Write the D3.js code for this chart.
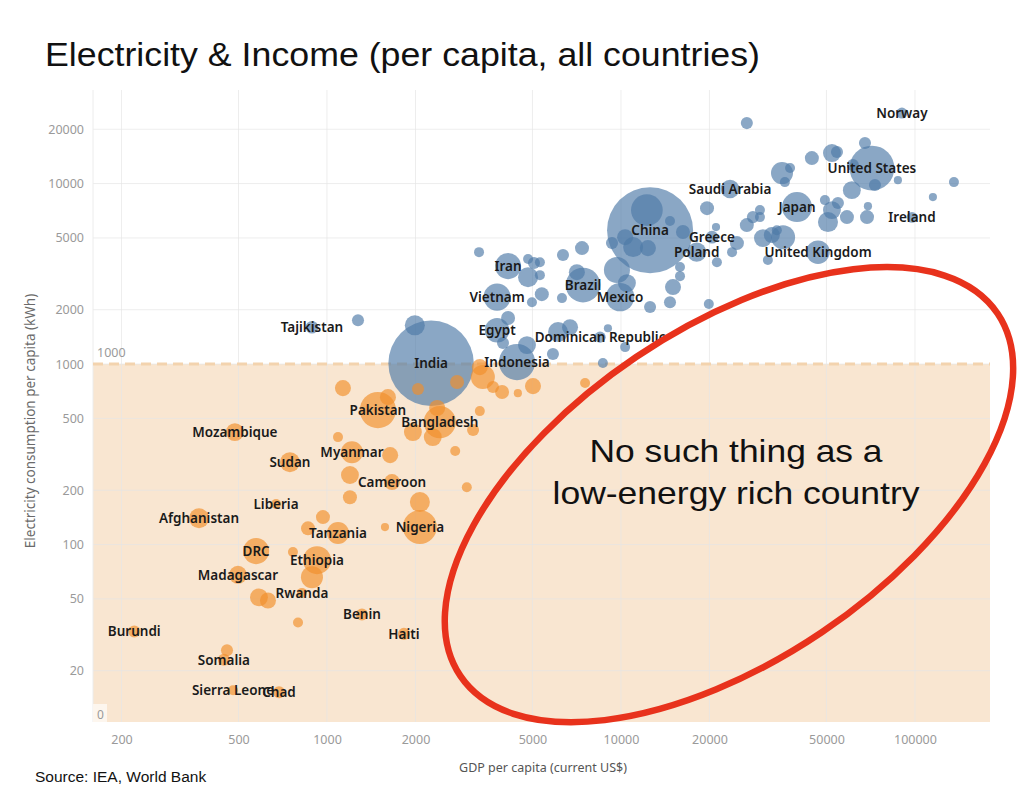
<!DOCTYPE html>
<html><head><meta charset="utf-8">
<script src="https://cdn.jsdelivr.net/npm/d3@7"></script>
<style>
html,body{margin:0;padding:0;background:#fff;}
svg{display:block;}
</style></head>
<body>
<script>
// ---------- DATA ----------
// 19 labelled high-consumption countries, 72 unlabelled ones, then 52 low-consumption countries
const blueNames = ["India","China","United States","","Japan","United Kingdom","Indonesia","Brazil","Mexico","Iran","Vietnam","Egypt","Saudi Arabia","Greece","Poland","Norway","Ireland","Tajikistan","Dominican Republic"];
const blueUnlabelled = 72;
const orangeNames = ["","Pakistan","","Bangladesh","","","","","","","","","","","","","","","","Myanmar","","","","Cameroon","","","Nigeria","","","Tanzania","","","Mozambique","Sudan","Liberia","Afghanistan","DRC","","Ethiopia","","Madagascar","","","Rwanda","","Benin","Haiti","Burundi","Somalia","","Sierra Leone","Chad"];
const names = blueNames.concat(new Array(blueUnlabelled).fill(""), orangeNames);
const gdp = [2260,12560,71400,12250,39700,46800,4430,7430,9930,4130,3790,3790,23500,20400,18100,90300,97700,889,8490,
1990,1275,3290,4830,5060,5300,4830,5300,5380,4980,6350,7370,7080,6300,9690,10480,12560,14680,15030,4130,3970,4790,6110,6710,5870,9030,10330,8680,10330,11000,12350,14680,16250,9320,15880,15880,21200,23870,24800,19620,21050,26800,26800,28100,29700,29700,35300,37600,36100,30400,32600,35600,33900,31600,44600,52200,54300,67600,49400,52200,54700,50600,58700,61000,73100,61500,68700,69200,87500,115100,135700,19900,
1133,1490,1612,2420,2290,2370,1960,3140,2040,2770,3390,3310,3670,3940,4460,5020,7550,3310,1090,1216,1640,2730,1197,1664,1197,2070,2070,1575,2990,1090,969,862,486,748,671,367,574,766,925,889,498,587,630,822,797,1315,1827,221,446,457,479,687];
const elec = [1010,5520,12190,7130,7410,4170,1026,2740,2350,3490,2350,1540,9330,5050,4170,24600,6500,1600,1410,
1640,1750,4170,3820,3630,3670,3030,3110,2440,2200,4020,4390,3230,2320,3320,2810,2070,2200,2670,1800,1307,1274,1504,1600,1136,1580,1242,1013,5050,4450,4390,6200,5390,4680,3450,3070,3670,4170,4680,7310,5740,21630,5890,6520,7130,6520,11430,12190,10190,4990,5190,5050,5520,3770,13840,14760,14950,16770,8100,7130,7800,6120,6520,9200,9810,12660,6520,7500,10450,8420,10190,2150,
736,556,656,477,394,571,420,431,727,795,847,962,746,700,690,755,785,549,394,325,313,330,243,222,183,172,125,125,208,116,142,123,420,286,168,140,92,91,82,66,68,51,49,54,37,41,32,33,23,26,15.6,15.2];
const pop = [1380,1400,330,145,126,67,200,180,110,88,97,75,35,10,38,5.4,5,9.5,6,
43,8,3.5,3.5,8,3.5,43,3.5,14,3.5,8,14,22,3.5,88,31,8,8,22,14,8,31,43,22,8,1,3.5,3.5,22,43,22,3.5,14,8,3.5,3.5,3.5,3.5,14,14,1,8,14,8,3.5,3.5,56,3.5,3.5,31,22,71,3.5,3.5,14,31,8,8,3.5,31,8,43,14,31,8,8,14,1,1,1,3.5,3.5,
22,200,22,150,31,22,31,8,8,14,71,22,8,14,1,22,3.5,3.5,3.5,56,22,3.5,31,22,14,43,171,1,3.5,56,14,14,31,43,3.5,43,88,3.5,106,56,31,31,22,3.5,3.5,8,8,8,8,8,3.5,8];
const xTicks = [200,500,1000,2000,5000,10000,20000,50000,100000];
const yTicks = [20,50,100,200,500,1000,2000,5000,10000,20000];
const threshold = 1000;
const title = "Electricity & Income (per capita, all countries)";
const note = ["No such thing as a","low-energy rich country"];

// ---------- LAYOUT ----------
const W = 1024, H = 796;
const L = 93, R = 990, T = 90, B = 722;
const svg = d3.select("body").append("svg").attr("width",W).attr("height",H);
const x = d3.scaleLog().domain([160,180000]).range([L,R]);
const y = d3.scaleLog().domain([10.4,33000]).range([B,T]);
const r = d3.scaleSqrt().domain([0,1400]).range([3,43]);
const sans = "'Noto Sans', Lato, sans-serif";

// reference band 0..1000
svg.append("rect").attr("x",L).attr("y",y(threshold)).attr("width",R-L).attr("height",B-y(threshold)).attr("fill","#f9e6d1");

// grid
const g = svg.append("g");
g.selectAll("line.v").data(xTicks).join("line").attr("x1",d=>x(d)).attr("x2",d=>x(d)).attr("y1",T).attr("y2",B)
 .attr("stroke","#e6e6e6").attr("stroke-opacity",0.7).attr("stroke-width",1);
g.selectAll("line.h").data(yTicks).join("line").attr("y1",d=>y(d)).attr("y2",d=>y(d)).attr("x1",L).attr("x2",R)
 .attr("stroke","#e6e6e6").attr("stroke-opacity",0.7).attr("stroke-width",1);
g.append("line").attr("x1",L).attr("x2",L).attr("y1",T).attr("y2",B).attr("stroke","#ececec");

// dashed threshold line
svg.append("line").attr("x1",L).attr("x2",R).attr("y1",y(threshold)).attr("y2",y(threshold))
 .attr("stroke","#f3d3ae").attr("stroke-width",3).attr("stroke-dasharray","10,6");
svg.append("text").attr("x",L+4).attr("y",y(threshold)-7).text(String(threshold))
 .attr("font-family",sans).attr("font-size",12.5).attr("fill","#9a9a9a");
svg.append("rect").attr("x",L).attr("y",B-18).attr("width",14).attr("height",18).attr("fill","#fdf6ee");
svg.append("text").attr("x",L+4).attr("y",B-3).text("0")
 .attr("font-family",sans).attr("font-size",12).attr("fill","#9a9a9a");

// axes (labels only)
const xAxis = d3.axisBottom(x).tickValues(xTicks).tickFormat(d3.format("d")).tickSize(0).tickPadding(0);
const ax = svg.append("g").attr("transform",`translate(0,${B+13})`).call(xAxis);
ax.select(".domain").remove();
ax.selectAll("text").attr("font-family",sans).attr("font-size",12.5).attr("fill","#9a9a9a").attr("dy","0.71em");
const yAxis = d3.axisLeft(y).tickValues(yTicks).tickFormat(d3.format("d")).tickSize(0).tickPadding(0);
const ay = svg.append("g").attr("transform",`translate(${L-9},0)`).call(yAxis);
ay.select(".domain").remove();
ay.selectAll("text").attr("font-family",sans).attr("font-size",12.5).attr("fill","#9a9a9a");

// axis titles
svg.append("text").attr("x",543).attr("y",772).attr("text-anchor","middle").text("GDP per capita (current US$)")
 .attr("font-family",sans).attr("font-size",12.5).attr("fill","#555");
svg.append("text").attr("transform","translate(35,421) rotate(-90)").attr("text-anchor","middle").text("Electricity consumption per capita (kWh)")
 .attr("font-family",sans).attr("font-size",13.5).attr("fill","#6a6a6a");

// bubbles
const data = names.map((n,i)=>({name:n,gdp:gdp[i],elec:elec[i],pop:pop[i]}));
const sorted = data.slice().sort((a,b)=>b.pop-a.pop);
svg.append("g").selectAll("circle").data(sorted).join("circle")
 .attr("cx",d=>x(d.gdp)).attr("cy",d=>y(d.elec)).attr("r",d=>r(d.pop))
 .attr("fill",d=>d.elec>=threshold?"#4e79a7":"#f28e2b").attr("fill-opacity",0.66);

// labels
svg.append("g").selectAll("text").data(data.filter(d=>d.name)).join("text")
 .attr("x",d=>x(d.gdp)).attr("y",d=>y(d.elec)).attr("dy","0.36em").attr("text-anchor","middle").text(d=>d.name)
 .attr("font-family",sans).attr("font-size",13.5).attr("font-weight",600).attr("fill","#1a1a1a");

// annotation ellipse + text
const cx = x(23300), cy = y(189);
svg.append("ellipse").attr("cx",cx).attr("cy",cy).attr("rx",324).attr("ry",166)
 .attr("transform",`rotate(-34,${cx},${cy})`).attr("fill","none").attr("stroke","#e8321c").attr("stroke-width",6.5);
const noteW = [293,367];
svg.append("g").selectAll("text").data(note).join("text")
 .attr("x",736).attr("y",(d,i)=>462+i*42).attr("text-anchor","middle").text(d=>d)
 .attr("textLength",(d,i)=>noteW[i]).attr("lengthAdjust","spacingAndGlyphs")
 .attr("font-family","'Liberation Sans', Arial, sans-serif").attr("font-size",30.5).attr("fill","#111");

// title + source
svg.append("text").attr("x",45).attr("y",66).text(title)
 .attr("textLength",715).attr("lengthAdjust","spacingAndGlyphs")
 .attr("font-family","'Liberation Sans', Arial, sans-serif").attr("font-size",34).attr("fill","#111");
svg.append("text").attr("x",35).attr("y",782).text("Source: IEA, World Bank")
 .attr("font-family","'Liberation Sans', Arial, sans-serif").attr("font-size",15.5).attr("fill","#111");
</script>
</body></html>
